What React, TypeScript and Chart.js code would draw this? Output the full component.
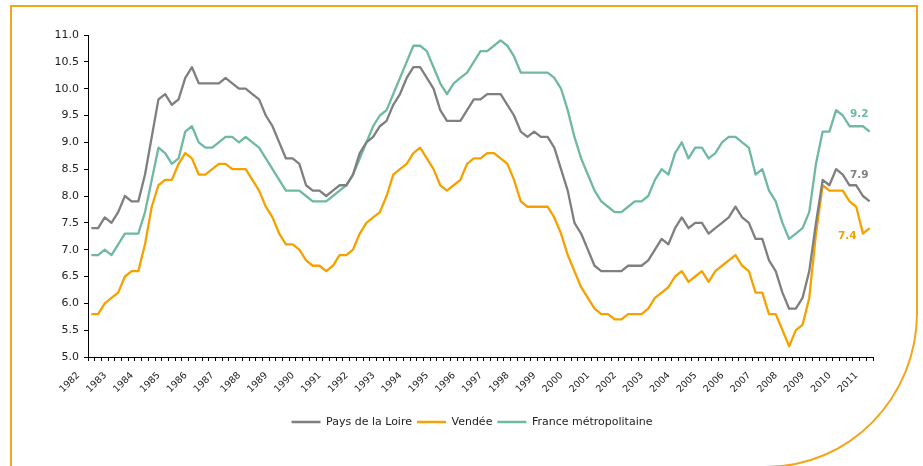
import { useEffect, useRef } from "react";
import { Chart, registerables } from "chart.js";

Chart.register(...registerables);

const YEARS = [
  "1982", "1983", "1984", "1985", "1986", "1987", "1988", "1989", "1990", "1991",
  "1992", "1993", "1994", "1995", "1996", "1997", "1998", "1999", "2000", "2001",
  "2002", "2003", "2004", "2005", "2006", "2007", "2008", "2009", "2010", "2011",
];

const PAYS_DE_LA_LOIRE = [
  7.4, 7.4, 7.6, 7.5, 7.7, 8.0, 7.9, 7.9, 8.4, 9.1, 9.8, 9.9, 9.7, 9.8, 10.2, 10.4, 10.1, 10.1, 10.1, 10.1, 10.2, 10.1, 10.0, 10.0,
  9.9, 9.8, 9.5, 9.3, 9.0, 8.7, 8.7, 8.6, 8.2, 8.1, 8.1, 8.0, 8.1, 8.2, 8.2, 8.4, 8.8, 9.0, 9.1, 9.3, 9.4, 9.7, 9.9, 10.2,
  10.4, 10.4, 10.2, 10.0, 9.6, 9.4, 9.4, 9.4, 9.6, 9.8, 9.8, 9.9, 9.9, 9.9, 9.7, 9.5, 9.2, 9.1, 9.2, 9.1, 9.1, 8.9, 8.5, 8.1,
  7.5, 7.3, 7.0, 6.7, 6.6, 6.6, 6.6, 6.6, 6.7, 6.7, 6.7, 6.8, 7.0, 7.2, 7.1, 7.4, 7.6, 7.4, 7.5, 7.5, 7.3, 7.4, 7.5, 7.6,
  7.8, 7.6, 7.5, 7.2, 7.2, 6.8, 6.6, 6.2, 5.9, 5.9, 6.1, 6.6, 7.5, 8.3, 8.2, 8.5, 8.4, 8.2, 8.2, 8.0, 7.9,
];

const VENDEE = [
  5.8, 5.8, 6.0, 6.1, 6.2, 6.5, 6.6, 6.6, 7.1, 7.8, 8.2, 8.3, 8.3, 8.6, 8.8, 8.7, 8.4, 8.4, 8.5, 8.6, 8.6, 8.5, 8.5, 8.5,
  8.3, 8.1, 7.8, 7.6, 7.3, 7.1, 7.1, 7.0, 6.8, 6.7, 6.7, 6.6, 6.7, 6.9, 6.9, 7.0, 7.3, 7.5, 7.6, 7.7, 8.0, 8.4, 8.5, 8.6,
  8.8, 8.9, 8.7, 8.5, 8.2, 8.1, 8.2, 8.3, 8.6, 8.7, 8.7, 8.8, 8.8, 8.7, 8.6, 8.3, 7.9, 7.8, 7.8, 7.8, 7.8, 7.6, 7.3, 6.9,
  6.6, 6.3, 6.1, 5.9, 5.8, 5.8, 5.7, 5.7, 5.8, 5.8, 5.8, 5.9, 6.1, 6.2, 6.3, 6.5, 6.6, 6.4, 6.5, 6.6, 6.4, 6.6, 6.7, 6.8,
  6.9, 6.7, 6.6, 6.2, 6.2, 5.8, 5.8, 5.5, 5.2, 5.5, 5.6, 6.1, 7.3, 8.2, 8.1, 8.1, 8.1, 7.9, 7.8, 7.3, 7.4,
];

const FRANCE_METROPOLITAINE = [
  6.9, 6.9, 7.0, 6.9, 7.1, 7.3, 7.3, 7.3, 7.7, 8.3, 8.9, 8.8, 8.6, 8.7, 9.2, 9.3, 9.0, 8.9, 8.9, 9.0, 9.1, 9.1, 9.0, 9.1,
  9.0, 8.9, 8.7, 8.5, 8.3, 8.1, 8.1, 8.1, 8.0, 7.9, 7.9, 7.9, 8.0, 8.1, 8.2, 8.4, 8.7, 9.0, 9.3, 9.5, 9.6, 9.9, 10.2, 10.5,
  10.8, 10.8, 10.7, 10.4, 10.1, 9.9, 10.1, 10.2, 10.3, 10.5, 10.7, 10.7, 10.8, 10.9, 10.8, 10.6, 10.3, 10.3, 10.3, 10.3, 10.3, 10.2, 10.0, 9.6,
  9.1, 8.7, 8.4, 8.1, 7.9, 7.8, 7.7, 7.7, 7.8, 7.9, 7.9, 8.0, 8.3, 8.5, 8.4, 8.8, 9.0, 8.7, 8.9, 8.9, 8.7, 8.8, 9.0, 9.1,
  9.1, 9.0, 8.9, 8.4, 8.5, 8.1, 7.9, 7.5, 7.2, 7.3, 7.4, 7.7, 8.6, 9.2, 9.2, 9.6, 9.5, 9.3, 9.3, 9.3, 9.2,
];

const SERIES_NAMES = ["Pays de la Loire", "Vendée", "France métropolitaine"];

const Y_MIN = 5;
const Y_MAX = 11;
const Y_STEP = 0.5;

const CATEGORIES = PAYS_DE_LA_LOIRE.map(
  (_, i) => `${YEARS[Math.floor(i / 4)]} T${(i % 4) + 1}`
);

const FONT = "'DejaVu Sans', 'Liberation Sans', sans-serif";
const GRAY = "#7f7f7f";
const ORANGE = "#f5a100";
const TEAL = "#6fb8a4";
const FRAME = "#f6a31e";

const endLabelPlugin = {
  id: "endLabels",
  afterDatasetsDraw(chart: any) {
    const ctx = chart.ctx;
    chart.data.datasets.forEach((ds: any, di: number) => {
      const meta = chart.getDatasetMeta(di);
      const pt = meta.data[meta.data.length - 1];
      if (!pt) return;
      const v = ds.data[ds.data.length - 1];
      const off = ds.endLabel || { dx: 0, dy: 0 };
      ctx.save();
      ctx.font = `bold 10.5px ${FONT}`;
      ctx.fillStyle = ds.borderColor;
      ctx.textAlign = "right";
      ctx.textBaseline = "middle";
      ctx.fillText(Number(v).toFixed(1), pt.x + off.dx, pt.y + off.dy);
      ctx.restore();
    });
  },
};

// shift the (bottom) legend horizontally so that it is centred like the original
const legendShiftPlugin = {
  id: "legendShift",
  afterLayout(chart: any) {
    const lg = chart.legend;
    if (!lg) return;
    lg.left += 30.5;
    lg.right += 30.5;
  },
};

export default function App() {
  const canvasRef = useRef<HTMLCanvasElement | null>(null);

  useEffect(() => {
    const canvas = canvasRef.current;
    if (!canvas) return;
    const chart = new Chart(canvas, {
      type: "line",
      data: {
        labels: CATEGORIES,
        datasets: [
          {
            label: SERIES_NAMES[0],
            data: PAYS_DE_LA_LOIRE,
            borderColor: GRAY,
            backgroundColor: GRAY,
            borderWidth: 2.3,
            pointRadius: 0,
            tension: 0,
            borderJoinStyle: "round",
            endLabel: { dx: -1, dy: -26 },
          } as any,
          {
            label: SERIES_NAMES[1],
            data: VENDEE,
            borderColor: ORANGE,
            backgroundColor: ORANGE,
            borderWidth: 2.3,
            pointRadius: 0,
            tension: 0,
            borderJoinStyle: "round",
            endLabel: { dx: -13, dy: 8 },
          } as any,
          {
            label: SERIES_NAMES[2],
            data: FRANCE_METROPOLITAINE,
            borderColor: TEAL,
            backgroundColor: TEAL,
            borderWidth: 2.3,
            pointRadius: 0,
            tension: 0,
            borderJoinStyle: "round",
            endLabel: { dx: -1, dy: -17.5 },
          } as any,
        ],
      },
      options: {
        responsive: false,
        animation: false,
        devicePixelRatio: 1,
        layout: { padding: { left: 10, right: 50, top: 35, bottom: 28.5 } },
        plugins: {
          tooltip: { enabled: false },
          legend: {
            display: true,
            position: "bottom",
            labels: {
              usePointStyle: true,
              pointStyle: "line",
              pointStyleWidth: 29,
              padding: 5,
              color: "#222",
              font: { family: FONT, size: 11 },
            },
          },
        },
        scales: {
          x: {
            type: "category",
            offset: true,
            grid: {
              display: true,
              drawOnChartArea: false,
              drawTicks: true,
              tickLength: 4,
              offset: true,
              color: "#000",
              lineWidth: 1,
            },
            border: { display: true, color: "#000", width: 1 },
            ticks: {
              autoSkip: false,
              maxRotation: 45,
              minRotation: 45,
              padding: 9,
              labelOffset: -13,
              color: "#222",
              font: { family: FONT, size: 9.5 },
              callback: (_v: any, i: number) => (i % 4 === 0 ? YEARS[i / 4] : ""),
            },
            afterFit: (s: any) => {
              s.height = 54.5;
            },
          },
          y: {
            min: Y_MIN,
            max: Y_MAX,
            grid: {
              display: true,
              drawOnChartArea: false,
              drawTicks: true,
              tickLength: 4,
              color: "#000",
            },
            border: { display: true, color: "#000", width: 1 },
            ticks: {
              stepSize: Y_STEP,
              padding: 5,
              color: "#222",
              font: { family: FONT, size: 11 },
              callback: (v: any) => Number(v).toFixed(1),
            },
            afterFit: (s: any) => {
              s.width = 78;
            },
          },
        },
      },
      plugins: [endLabelPlugin, legendShiftPlugin],
    });
    return () => chart.destroy();
  }, []);

  return (
    <div
      style={{
        position: "absolute",
        left: 0,
        top: 0,
        width: 923,
        height: 466,
        overflow: "hidden",
        background: "#fff",
      }}
    >
      <div
        style={{
          position: "absolute",
          left: 10,
          top: 5,
          width: 908,
          height: 463,
          boxSizing: "border-box",
          border: `2px solid ${FRAME}`,
          borderBottomRightRadius: "152px 155px",
        }}
      />
      <canvas
        ref={canvasRef}
        width={923}
        height={466}
        style={{ position: "absolute", left: 0, top: 0, width: 923, height: 466 }}
      />
    </div>
  );
}
